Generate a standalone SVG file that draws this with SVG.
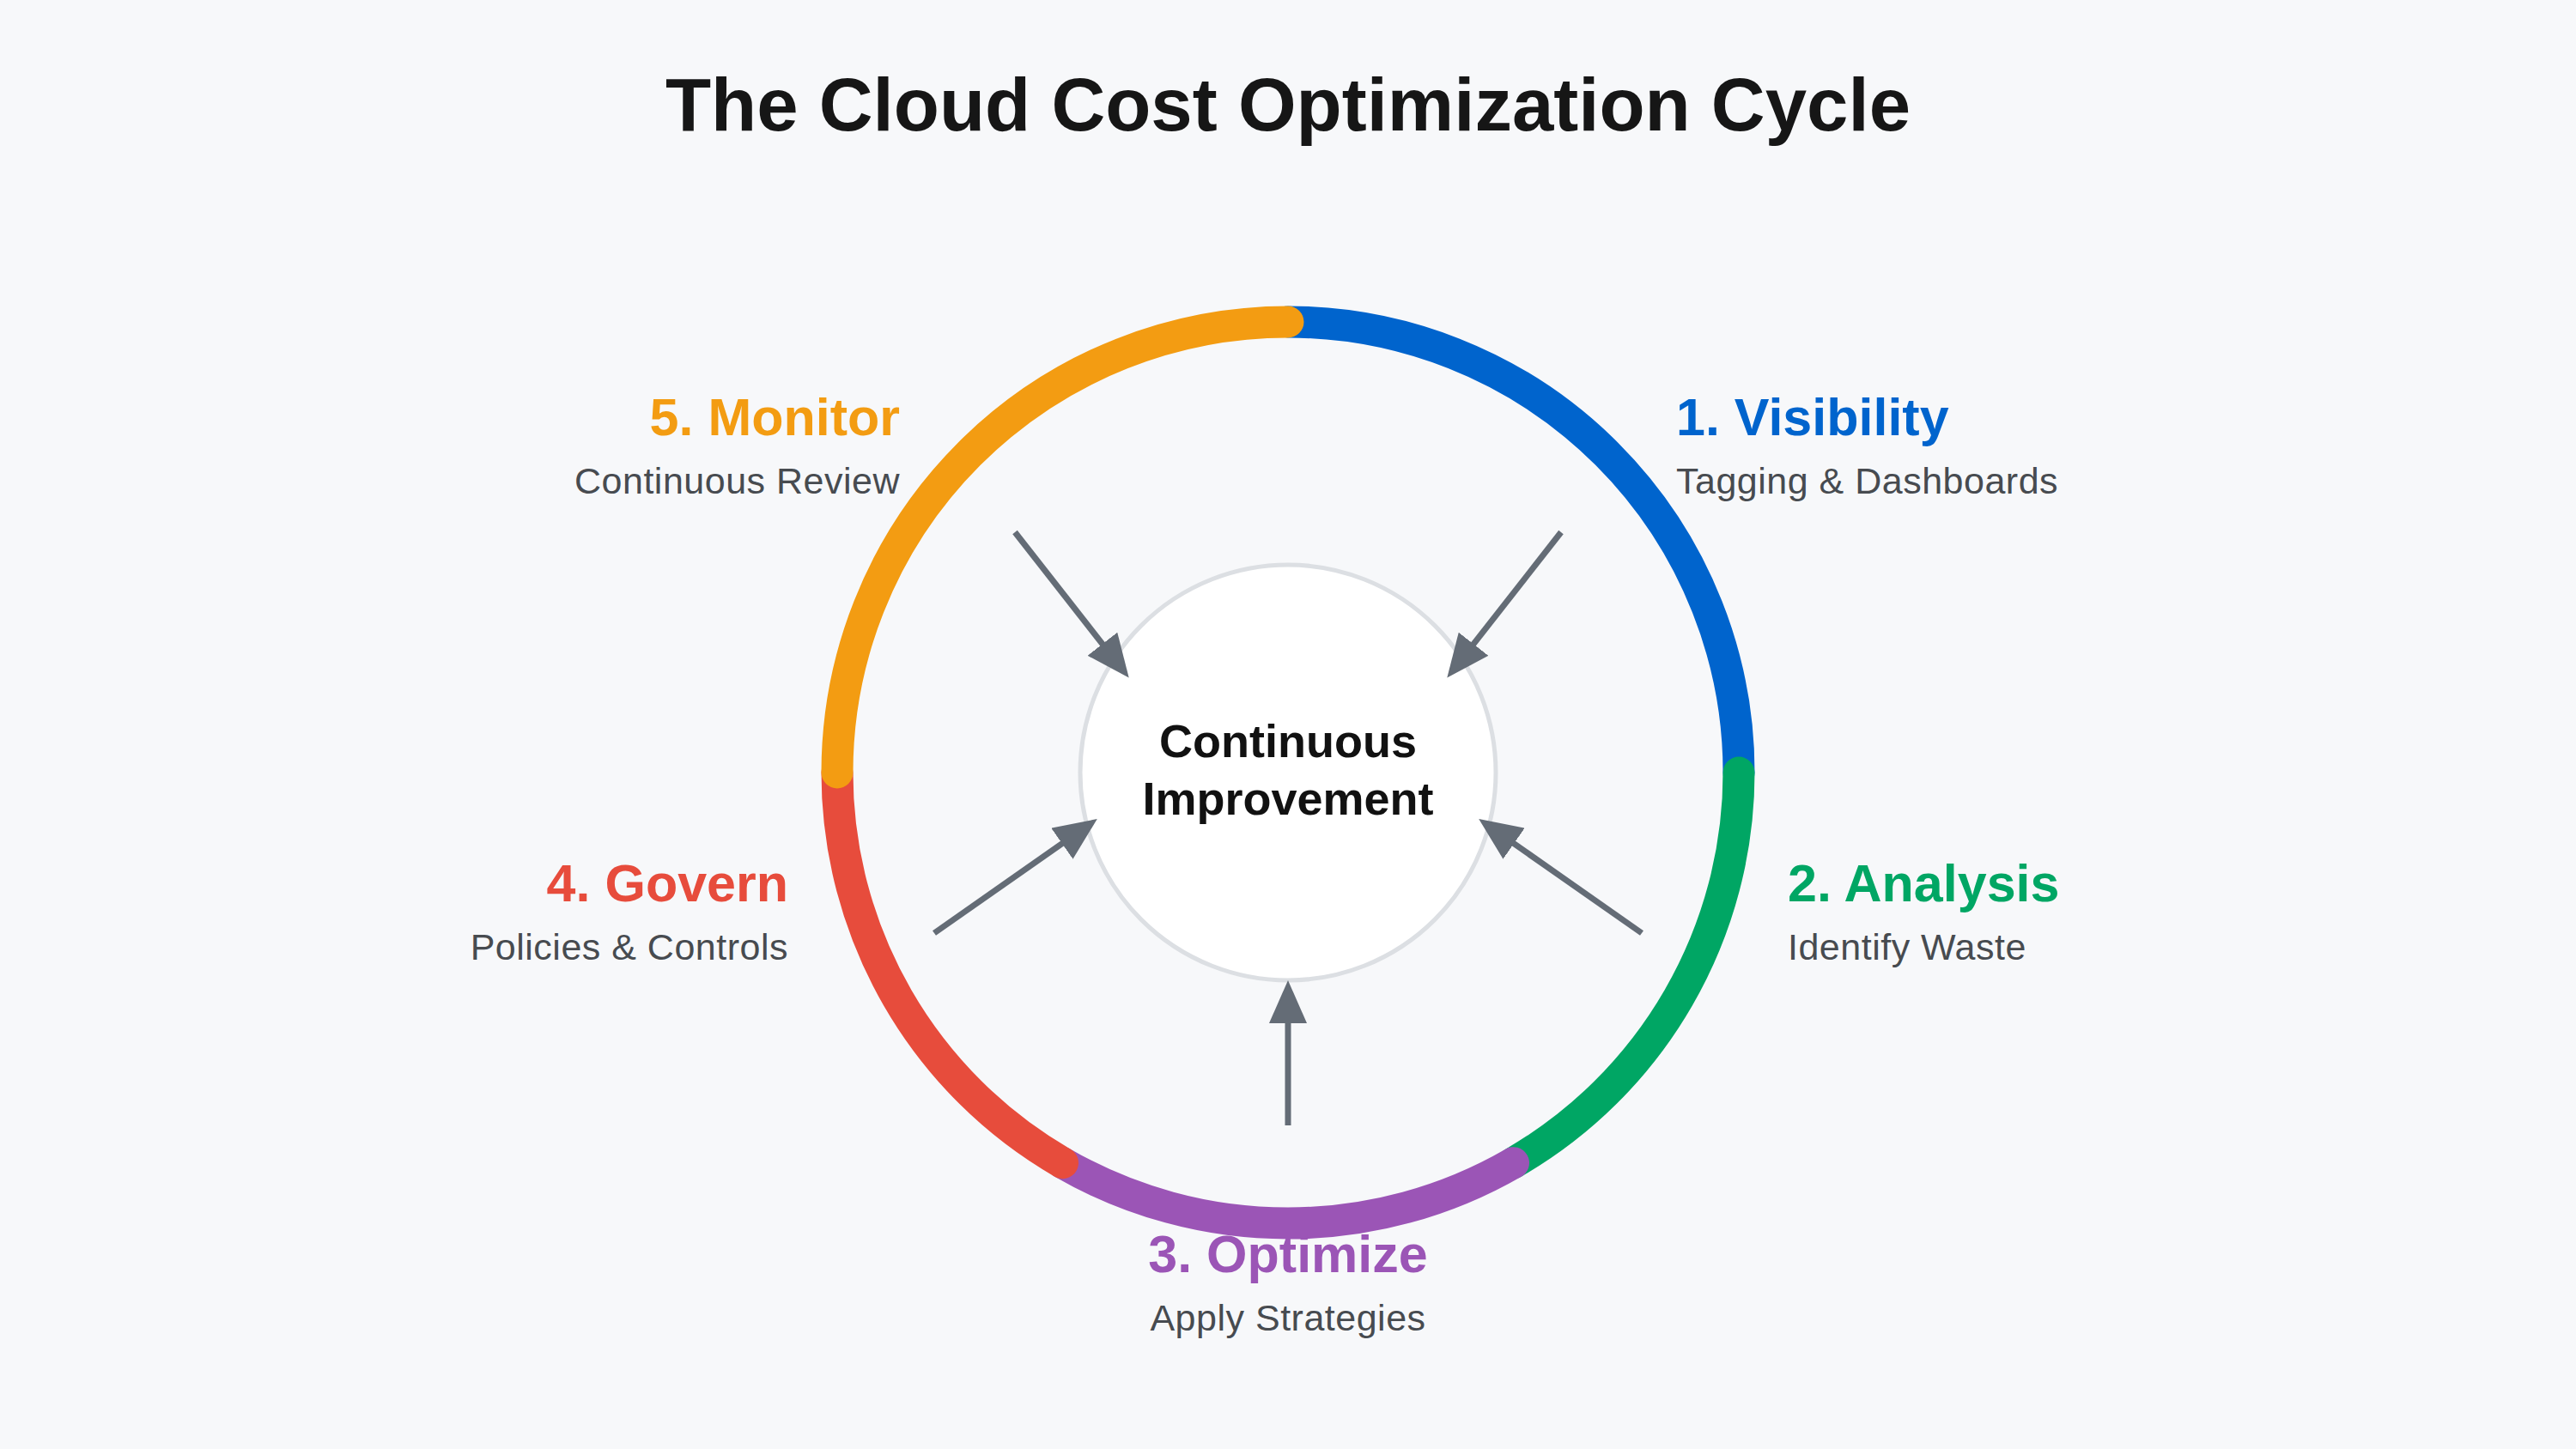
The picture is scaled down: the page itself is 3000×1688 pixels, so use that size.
<svg xmlns="http://www.w3.org/2000/svg" width="3000" height="1688" viewBox="0 0 3000 1688">
  <defs>
    <style>
      .title { font-family: "Liberation Sans", Arial, sans-serif; font-weight: bold; font-size: 87px; fill: #161616; text-anchor: middle; }
      .arc { fill: none; stroke-width: 37; stroke-linecap: round; }
      .ph { font-family: "Liberation Sans", Arial, sans-serif; font-weight: bold; font-size: 61px; }
      .sub { font-family: "Liberation Sans", Arial, sans-serif; font-size: 43px; letter-spacing: 0.5px; fill: #474b50; }
      .center-text { font-family: "Liberation Sans", Arial, sans-serif; font-weight: bold; font-size: 54px; fill: #111111; text-anchor: middle; }
      .conn { stroke: #646c76; stroke-width: 7; fill: none; marker-end: url(#arrow); }
    </style>
    <marker id="arrow" viewBox="0 0 50 44" refX="18" refY="22" markerWidth="50" markerHeight="44" markerUnits="userSpaceOnUse" orient="auto">
      <path d="M0,0 L50,22 L0,44 Z" fill="#646c76"/>
    </marker>
  </defs>

  <rect x="0" y="0" width="3000" height="1688" fill="#f7f8fa"/>

  <text class="title" x="1500" y="152">The Cloud Cost Optimization Cycle</text>

  <g id="phase-visibility">
    <path class="arc" stroke="#0064cd" d="M1500,375 A525,525 0 0 1 2025,900"/>
    <text class="ph" x="1952" y="507" fill="#0064cd">1. Visibility</text>
    <text class="sub" x="1952" y="575">Tagging &amp; Dashboards</text>
  </g>

  <g id="phase-analysis">
    <path class="arc" stroke="#00a664" d="M2025,900 A525,525 0 0 1 1762.5,1354.66"/>
    <text class="ph" x="2082" y="1050" fill="#00a664">2. Analysis</text>
    <text class="sub" x="2082" y="1118">Identify Waste</text>
  </g>

  <g id="phase-optimize">
    <path class="arc" stroke="#9b55b6" d="M1762.5,1354.66 A525,525 0 0 1 1237.5,1354.66"/>
    <text class="ph" x="1500" y="1482" fill="#9b55b6" text-anchor="middle">3. Optimize</text>
    <text class="sub" x="1500" y="1550" text-anchor="middle">Apply Strategies</text>
  </g>

  <g id="phase-govern">
    <path class="arc" stroke="#e74c3c" d="M1237.5,1354.66 A525,525 0 0 1 975,900"/>
    <text class="ph" x="918" y="1050" fill="#e74c3c" text-anchor="end">4. Govern</text>
    <text class="sub" x="918" y="1118" text-anchor="end">Policies &amp; Controls</text>
  </g>

  <g id="phase-monitor">
    <path class="arc" stroke="#f39c12" d="M975,900 A525,525 0 0 1 1500,375"/>
    <text class="ph" x="1048" y="507" fill="#f39c12" text-anchor="end">5. Monitor</text>
    <text class="sub" x="1048" y="575" text-anchor="end">Continuous Review</text>
  </g>

  <g id="center">
    <circle cx="1500" cy="900" r="242" fill="#ffffff" stroke="#dcdfe3" stroke-width="5"/>
    <text class="center-text" x="1500" y="882">Continuous</text>
    <text class="center-text" x="1500" y="949">Improvement</text>
  </g>

  <g id="connectors">
    <line class="conn" x1="1182" y1="620" x2="1295" y2="764.4"/>
    <line class="conn" x1="1818" y1="620" x2="1705" y2="764.4"/>
    <line class="conn" x1="1912" y1="1087" x2="1748.4" y2="972.4"/>
    <line class="conn" x1="1500" y1="1311" x2="1500" y2="1174"/>
    <line class="conn" x1="1088" y1="1087" x2="1251.6" y2="972.4"/>
  </g>
</svg>
